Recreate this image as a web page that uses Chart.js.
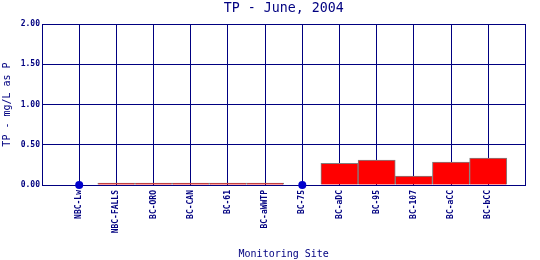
<!DOCTYPE html>
<html>
<head>
<meta charset="utf-8">
<script src="https://cdn.jsdelivr.net/npm/chart.js@4/dist/chart.umd.min.js"></script>
<style>
html,body{margin:0;padding:0;background:#fff;}
#wrap{width:540px;height:260px;}
</style>
</head>
<body>
<div id="wrap"><canvas id="c" width="540" height="260"></canvas></div>
<script>
const sites = ['NBC-Lw','NBC-FALLS','BC-ORO','BC-CAN','BC-61','BC-aWWTP','BC-75','BC-aDC','BC-95','BC-107','BC-aCC','BC-bCC'];
const tpValues = [null,0.025,0.025,0.025,0.025,0.025,null,0.27,0.31,0.11,0.285,0.335];
const nonDetect = [0,null,null,null,null,null,0,null,null,null,null,null];
const yTicks = [0,0.5,1.0,1.5,2.0];

const navy = '#000080';
const mono = 'DejaVu Sans Mono';
const labels = [''].concat(sites, ['']);
const pad = arr => [null].concat(arr, [null]);

new Chart(document.getElementById('c'), {
  data: {
    labels: labels,
    datasets: [
      {
        type: 'line',
        data: pad(nonDetect),
        showLine: false,
        clip: false,
        pointRadius: 4,
        pointHoverRadius: 4,
        pointBackgroundColor: '#0000CC',
        pointBorderColor: '#0000CC',
        pointBorderWidth: 0,
        order: 0
      },
      {
        type: 'bar',
        data: pad(tpValues),
        backgroundColor: '#FF0000',
        borderColor: '#808080',
        borderWidth: 1,
        barPercentage: 1,
        categoryPercentage: 1,
        order: 1
      }
    ]
  },
  options: {
    responsive: false,
    animation: false,
    events: [],
    layout: { padding: { left: 0, right: 4, top: 0, bottom: 0 } },
    plugins: {
      legend: { display: false },
      tooltip: { enabled: false },
      title: {
        display: true,
        fullSize: false,
        text: 'TP - June, 2004',
        color: navy,
        font: { family: mono, size: 13.3, weight: 'normal' },
        padding: { top: 1, bottom: 7.04 }
      }
    },
    scales: {
      x: {
        type: 'category',
        offset: false,
        grid: { color: navy, lineWidth: 1, drawTicks: false, offset: false },
        border: { color: navy, width: 1 },
        ticks: {
          color: navy,
          font: { family: mono, size: 8, weight: 'bold' },
          minRotation: 90, maxRotation: 90,
          autoSkip: false,
          padding: 5
        },
        title: {
          display: true,
          text: 'Monitoring Site',
          color: navy,
          font: { family: mono, size: 10 },
          padding: { top: 0, bottom: 0 }
        },
        afterFit: s => { s.height = 75; }
      },
      y: {
        min: 0, max: 2,
        afterBuildTicks: s => { s.ticks = yTicks.map(v => ({ value: v })); },
        grid: { color: navy, lineWidth: 1, drawTicks: false },
        border: { color: navy, width: 1 },
        ticks: {
          color: navy,
          font: { family: mono, size: 8, weight: 'bold' },
          padding: 2,
          callback: v => Number(v).toFixed(2)
        },
        title: {
          display: true,
          text: 'TP - mg/L as P',
          color: navy,
          font: { family: mono, size: 10 },
          padding: { top: 1, bottom: 2 }
        },
        afterFit: s => { s.width = 42; }
      }
    }
  }
});
</script>
</body>
</html>
